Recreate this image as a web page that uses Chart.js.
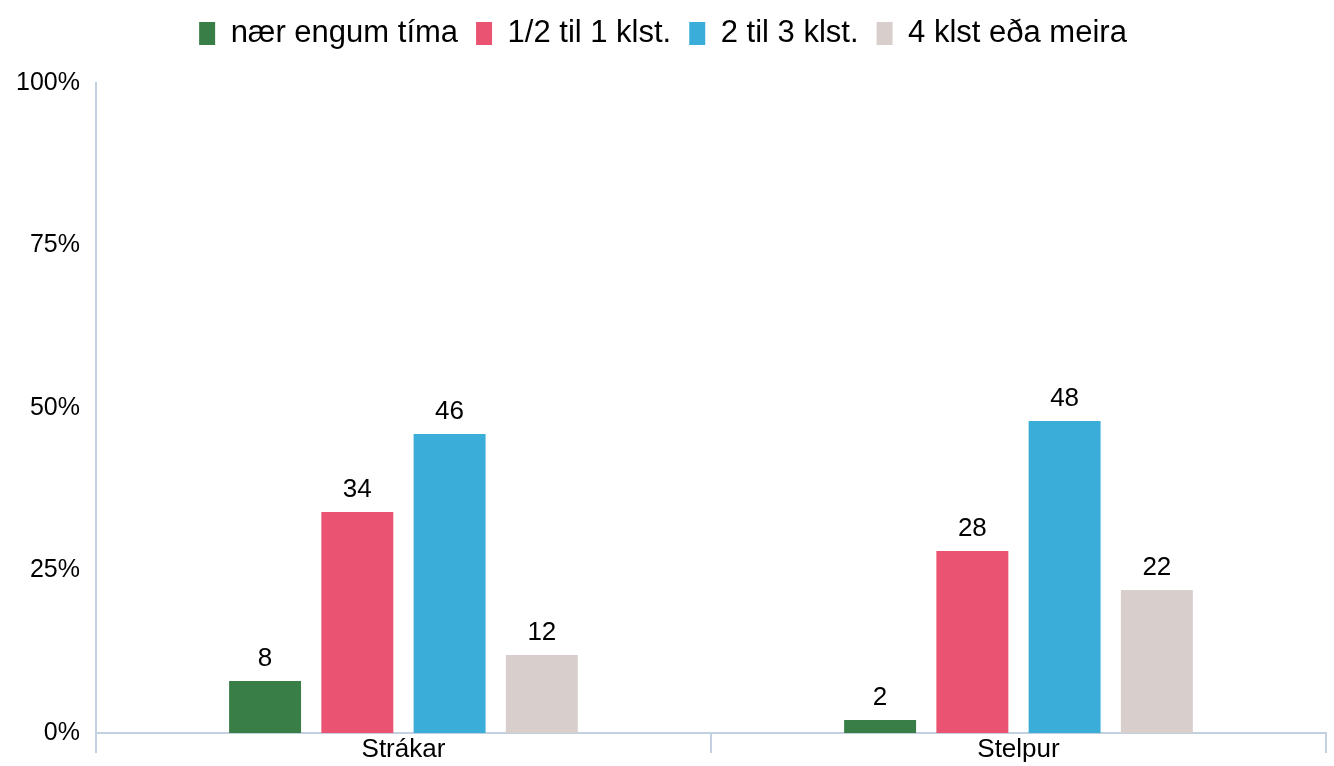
<!DOCTYPE html>
<html>
<head>
<meta charset="utf-8">
<script src="https://cdn.jsdelivr.net/npm/chart.js@4"></script>
<style>
  html, body { margin: 0; padding: 0; background: #fff; overflow: hidden; }
  #wrap { width: 1334px; height: 766px; }
  canvas { display: block; }
</style>
</head>
<body>
<div id="wrap"><canvas id="myChart" width="1334" height="766"></canvas></div>
<script>
// categories and series
const groups = ['Strákar', 'Stelpur'];
const seriesNames = ['nær engum tíma', '1/2 til 1 klst.', '2 til 3 klst.', '4 klst eða meira'];
const naerEngum = [8, 2];
const halfToOne = [34, 28];
const twoToThree = [46, 48];
const fourPlus = [12, 22];
const yTicks = [0, 25, 50, 75, 100];

const colors = ['#397e46', '#ea5371', '#3badd9', '#d8cfcc'];
const axisColor = '#c3d0e0';
const fontFamily = '"Liberation Sans", Arial, sans-serif';

// value labels above each bar
const barLabels = {
    id: 'barLabels',
    afterDatasetsDraw(chart) {
        const ctx = chart.ctx;
        ctx.save();
        ctx.fillStyle = '#000';
        ctx.font = '26px ' + fontFamily;
        ctx.textAlign = 'center';
        ctx.textBaseline = 'bottom';
        chart.data.datasets.forEach((ds, i) => {
            chart.getDatasetMeta(i).data.forEach((bar, j) => {
                ctx.fillText(ds.data[j], bar.x, bar.y - 9);
            });
        });
        ctx.restore();
    }
};

// extra room under the legend
const legendGap = {
    id: 'legendGap',
    beforeInit(chart) {
        const fit = chart.legend.fit;
        chart.legend.fit = function () {
            fit.bind(chart.legend)();
            this.height += 24;
        };
    }
};

const ctx = document.querySelector('#myChart').getContext('2d');
const myChart = new Chart(ctx, {
    type: 'bar',
    data: {
        labels: groups,
        datasets: [naerEngum, halfToOne, twoToThree, fourPlus].map((d, i) => ({
            label: seriesNames[i],
            data: d,
            backgroundColor: colors[i],
            borderWidth: 0,
            barPercentage: 0.78,
            categoryPercentage: 0.6
        }))
    },
    options: {
        responsive: false,
        animation: false,
        layout: { padding: { left: 0, right: 8, top: 0, bottom: 33 } },
        plugins: {
            legend: {
                position: 'top',
                labels: {
                    color: '#000',
                    font: { size: 31, family: fontFamily },
                    boxWidth: 16,
                    boxHeight: 23,
                    padding: 18
                }
            },
            tooltip: { enabled: false }
        },
        scales: {
            x: {
                // sit the axis on the zero line so the long ticks and the labels can overlap
                position: { y: 0 },
                grid: {
                    display: true,
                    drawOnChartArea: false,
                    drawTicks: true,
                    tickLength: 19,
                    color: axisColor,
                    lineWidth: 2,
                    offset: true
                },
                border: { color: axisColor, width: 2 },
                ticks: {
                    color: '#000',
                    font: { size: 26, family: fontFamily },
                    padding: -18
                }
            },
            y: {
                min: 0,
                max: 100,
                afterBuildTicks: axis => { axis.ticks = yTicks.map(v => ({ value: v })); },
                grid: { display: false, drawTicks: false },
                border: { color: axisColor, width: 2 },
                ticks: {
                    color: '#000',
                    font: { size: 25, family: fontFamily },
                    padding: 16,
                    callback: v => v + '%'
                }
            }
        }
    },
    plugins: [barLabels, legendGap]
});
</script>
</body>
</html>
